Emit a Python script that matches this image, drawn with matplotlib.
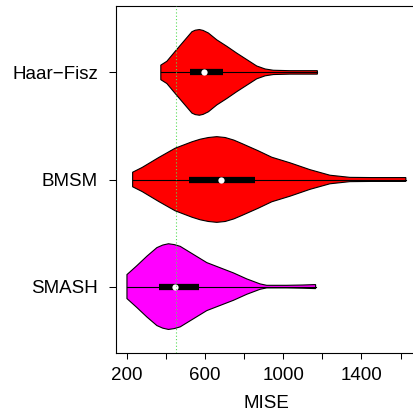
import numpy as np
import matplotlib as mpl
mpl.use('Agg')
import matplotlib.pyplot as plt

plt.rcParams['font.family'] = ['Liberation Sans', 'DejaVu Sans']

# methods, bottom to top
methods = ["SMASH", "BMSM", "Haar\u2212Fisz"]
colors = ["#ff00ff", "#ff0000", "#ff0000"]

# violin outlines: MISE grid and relative density (peak = 1)
smash_x = [202, 253, 304, 355, 385, 414, 444, 474, 542, 610, 678, 746, 814, 882, 916, 1018, 1100, 1166]
smash_d = [0.28, 0.49, 0.71, 0.91, 0.97, 1.0, 0.98, 0.94, 0.75, 0.56, 0.44, 0.32, 0.18, 0.063, 0.03, 0.03, 0.037, 0.047]
bmsm_x = [231, 279, 363, 448, 534, 576, 618, 661, 704, 748, 789, 873, 942, 1035, 1137, 1239, 1341, 1450, 1627]
bmsm_d = [0.17, 0.28, 0.51, 0.73, 0.88, 0.94, 0.98, 1.0, 0.98, 0.92, 0.84, 0.67, 0.52, 0.39, 0.23, 0.10, 0.05, 0.045, 0.045]
haar_x = [375, 406, 448, 491, 534, 551, 572, 591, 618, 661, 712, 763, 814, 865, 908, 950, 1035, 1175]
haar_d = [0.17, 0.26, 0.49, 0.72, 0.95, 0.985, 1.0, 0.98, 0.92, 0.76, 0.61, 0.45, 0.30, 0.15, 0.08, 0.05, 0.04, 0.04]

# box stats: q1, median, q3
q1 = [365, 521, 525]
med = [450, 682, 595]
q3 = [569, 857, 692]

ref_line = 452

grids = [smash_x, bmsm_x, haar_x]
dens = [smash_d, bmsm_d, haar_d]

W, H = 414, 418
fig = plt.figure(figsize=(W / 100, H / 100), dpi=100)
ax = fig.add_axes([116 / W, 1 - 353 / H, (417 - 116) / W, (353 - 6) / H])

half = 0.4
for i in range(3):
    pos = i + 1
    x = np.array(grids[i])
    d = np.array(dens[i]) * half
    xs = np.concatenate([[x[0]], x, [x[-1]], x[::-1]])
    ys = np.concatenate([[pos], pos + d, [pos], pos - d[::-1]])
    ax.fill(xs, ys, facecolor=colors[i], edgecolor='black', lw=0.8, zorder=2)
    ax.plot([x[0], x[-1]], [pos, pos], color='black', lw=0.8, zorder=3)
    ax.plot([q1[i], q3[i]], [pos, pos], color='black', lw=4.5,
            solid_capstyle='butt', zorder=4)
    ax.plot(med[i], pos, 'o', color='white', ms=4.5, mec='none', zorder=5)

ax.axvline(ref_line, color='#55dd55', lw=0.8, ls=(0, (1, 2)), zorder=6)

ax.set_xlim(146, 1684)
ax.set_ylim(0.38, 3.62)
ax.set_xticks(np.arange(200, 1601, 200))
ax.set_xticklabels(["200", "", "600", "", "1000", "", "1400", ""])
ax.set_yticks([1, 2, 3])
ax.set_yticklabels(methods)
ax.tick_params(axis='x', length=4.5, width=0.75, pad=5.5, labelsize=13.5)
ax.tick_params(axis='y', length=5, width=0.75, pad=8, labelsize=13.5)
ax.set_xlabel("MISE", fontsize=13.5, labelpad=8)
for s in ax.spines.values():
    s.set_linewidth(0.8)

fig.savefig("out.png", dpi=100)
